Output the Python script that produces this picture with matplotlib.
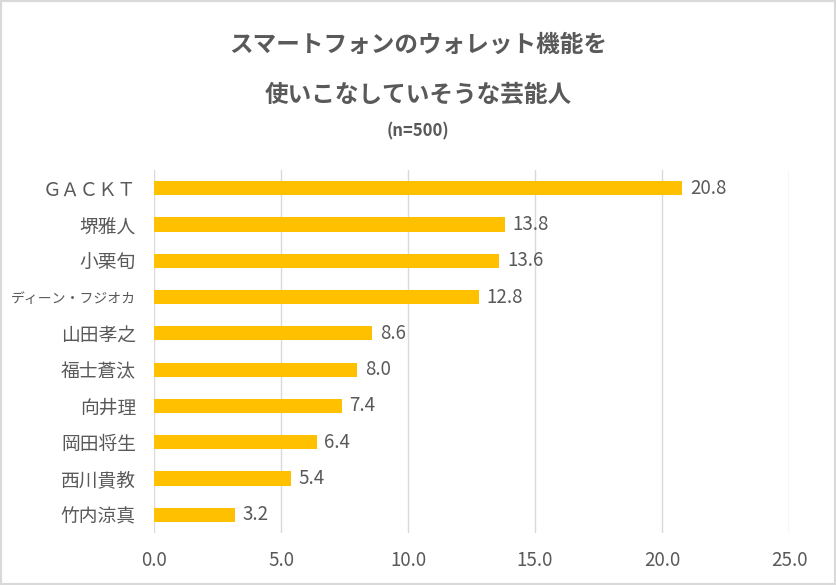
import matplotlib
matplotlib.use("Agg")
import matplotlib.pyplot as plt
from matplotlib.patches import Rectangle

plt.rcParams['font.family'] = ['Noto Sans CJK JP', 'DejaVu Sans']

names = ["ＧＡＣＫＴ", "堺雅人", "小栗旬", "ディーン・フジオカ", "山田孝之",
         "福士蒼汰", "向井理", "岡田将生", "西川貴教", "竹内涼真"]
values = [20.8, 13.8, 13.6, 12.8, 8.6, 8.0, 7.4, 6.4, 5.4, 3.2]
xticks = [0, 5, 10, 15, 20, 25]

title1 = "スマートフォンのウォレット機能を"
title2 = "使いこなしていそうな芸能人"
subtitle = "(n=500)"

txt = "#595959"
fig = plt.figure(figsize=(8.36, 5.85), dpi=100)
fig.patches.append(Rectangle((0, 0), 1, 1, transform=fig.transFigure,
                             fill=False, edgecolor="#D9D9D9", linewidth=3))
ax = fig.add_axes([0.1842, 0.0889, 0.7596, 0.6205])

y = list(range(len(names)))
ax.barh(y, values, height=0.39, color="#FFC000", zorder=3)
ax.set_ylim(len(names) - 0.5, -0.5)
ax.set_xlim(0, 25)
ax.set_xticks(xticks)
ax.set_xticklabels([f"{v:.1f}" for v in xticks], fontsize=13.5, color=txt)
ax.set_yticks(y)
ax.set_yticklabels(names, fontsize=13.5, color=txt)
for lab in ax.get_yticklabels():
    if len(lab.get_text()) > 6:
        lab.set_fontsize(10)
ax.tick_params(axis="both", length=0)
ax.tick_params(axis="x", pad=12)
ax.tick_params(axis="y", pad=13)
ax.grid(axis="x", color="#D9D9D9", linewidth=1, zorder=0)
for s in ax.spines.values():
    s.set_visible(False)
for yi, v in zip(y, values):
    ax.text(v + 0.3, yi, f"{v:.1f}", va="center", ha="left", fontsize=13.5, color=txt)

fig.text(0.5, 1 - 45/585, title1, ha="center", va="center", fontsize=17,
         fontweight="bold", color=txt)
fig.text(0.5, 1 - 95/585, title2, ha="center", va="center", fontsize=17,
         fontweight="bold", color=txt)
fig.text(0.5, 1 - 131/585, subtitle, ha="center", va="center", fontsize=12,
         fontweight="bold", color=txt)

fig.savefig("out.png", dpi=100)
